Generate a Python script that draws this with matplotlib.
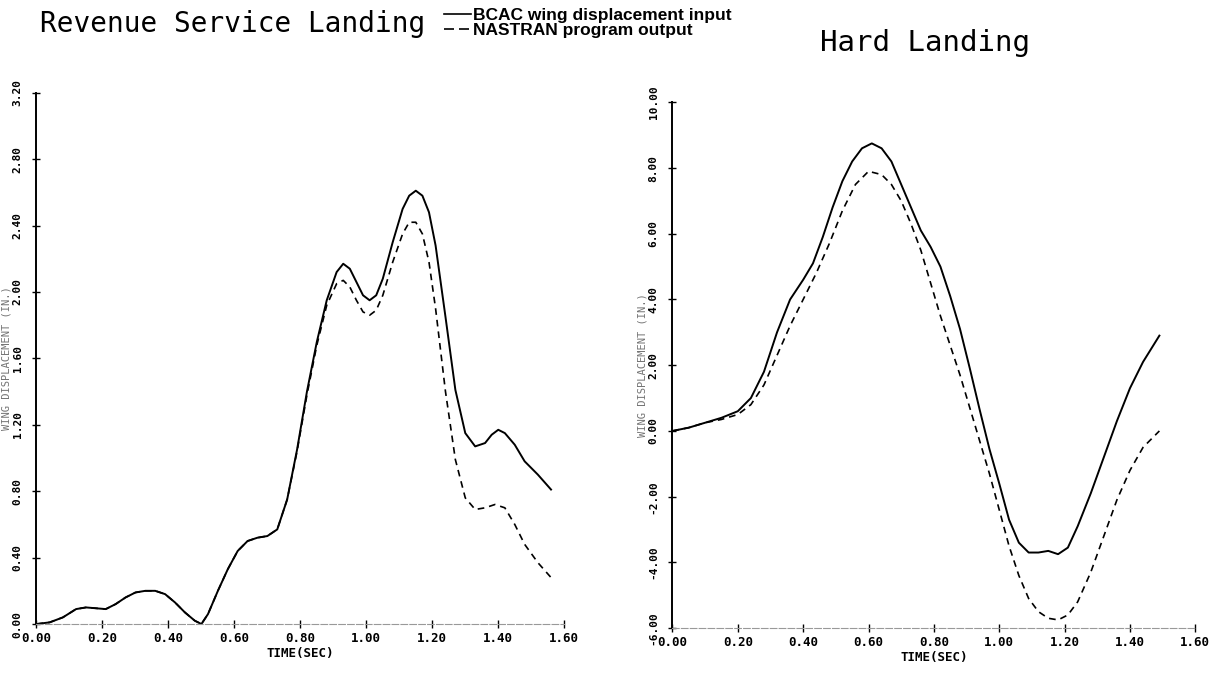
"""
Wing displacement time histories: BCAC input vs NASTRAN output,
revenue service landing and hard landing.
"""
import numpy as np
import matplotlib as mpl
import matplotlib.pyplot as plt
from matplotlib.lines import Line2D

mpl.rcParams.update({
    "font.family": ["DejaVu Sans Mono", "DejaVu Sans"],
    "axes.linewidth": 1.4,
})

# ---- Revenue service landing (left panel) ----
rev_t_in = [0.00, 0.04, 0.08, 0.12, 0.15, 0.18, 0.21, 0.24, 0.27, 0.30,
            0.33, 0.36, 0.39, 0.42, 0.45, 0.48, 0.50, 0.52, 0.55, 0.58,
            0.61, 0.64, 0.67, 0.70, 0.73, 0.76, 0.79, 0.82, 0.85, 0.88,
            0.91, 0.93, 0.95, 0.97, 0.99, 1.01, 1.03, 1.05, 1.08, 1.11,
            1.13, 1.15, 1.17, 1.19, 1.21, 1.24, 1.27, 1.30, 1.33, 1.36,
            1.38, 1.40, 1.42, 1.45, 1.48, 1.52, 1.56]
rev_in = [0.00, 0.01, 0.04, 0.09, 0.10, 0.095, 0.09, 0.12, 0.16, 0.19,
          0.20, 0.20, 0.18, 0.13, 0.07, 0.02, 0.00, 0.06, 0.20, 0.33,
          0.44, 0.50, 0.52, 0.53, 0.57, 0.75, 1.05, 1.40, 1.70, 1.95,
          2.12, 2.17, 2.14, 2.06, 1.98, 1.95, 1.98, 2.08, 2.30, 2.50,
          2.58, 2.61, 2.58, 2.48, 2.28, 1.85, 1.41, 1.15, 1.07, 1.09,
          1.14, 1.17, 1.15, 1.08, 0.98, 0.90, 0.81]

rev_t_out = [0.00, 0.04, 0.08, 0.12, 0.15, 0.18, 0.21, 0.24, 0.27, 0.30,
             0.33, 0.36, 0.39, 0.42, 0.45, 0.48, 0.50, 0.52, 0.55, 0.58,
             0.61, 0.64, 0.67, 0.70, 0.73, 0.76, 0.79, 0.82, 0.85, 0.88,
             0.91, 0.93, 0.95, 0.97, 0.99, 1.01, 1.03, 1.05, 1.08, 1.11,
             1.13, 1.15, 1.17, 1.19, 1.21, 1.24, 1.27, 1.30, 1.33, 1.36,
             1.39, 1.42, 1.45, 1.48, 1.52, 1.56]
rev_out = [0.00, 0.01, 0.04, 0.09, 0.10, 0.095, 0.09, 0.12, 0.16, 0.19,
           0.20, 0.20, 0.18, 0.13, 0.07, 0.02, 0.00, 0.06, 0.20, 0.33,
           0.44, 0.50, 0.52, 0.53, 0.57, 0.75, 1.04, 1.38, 1.68, 1.92,
           2.05, 2.07, 2.03, 1.95, 1.88, 1.86, 1.89, 1.98, 2.18, 2.35,
           2.42, 2.42, 2.35, 2.18, 1.90, 1.40, 0.99, 0.76, 0.69, 0.70,
           0.72, 0.70, 0.60, 0.48, 0.37, 0.28]

# ---- Hard landing (right panel) ----
hard_t_in = [0.00, 0.05, 0.10, 0.15, 0.20, 0.24, 0.28, 0.32, 0.36, 0.40,
             0.43, 0.46, 0.49, 0.52, 0.55, 0.58, 0.61, 0.64, 0.67, 0.70,
             0.73, 0.76, 0.79, 0.82, 0.85, 0.88, 0.91, 0.94, 0.97, 1.00,
             1.03, 1.06, 1.09, 1.12, 1.15, 1.18, 1.21, 1.24, 1.28, 1.32,
             1.36, 1.40, 1.44, 1.49]
hard_in = [0.00, 0.10, 0.25, 0.40, 0.60, 1.00, 1.80, 3.00, 4.00, 4.60,
           5.10, 5.90, 6.80, 7.60, 8.20, 8.60, 8.75, 8.60, 8.20, 7.50,
           6.80, 6.10, 5.60, 5.00, 4.10, 3.10, 1.90, 0.65, -0.55, -1.60,
           -2.70, -3.40, -3.70, -3.70, -3.65, -3.75, -3.55, -2.90, -1.90,
           -0.80, 0.30, 1.30, 2.10, 2.90]

hard_t_out = [0.00, 0.05, 0.10, 0.15, 0.20, 0.24, 0.28, 0.32, 0.36, 0.40,
              0.44, 0.48, 0.52, 0.56, 0.60, 0.64, 0.67, 0.70, 0.73, 0.76,
              0.79, 0.82, 0.85, 0.88, 0.91, 0.94, 0.97, 1.00, 1.03, 1.06,
              1.09, 1.12, 1.15, 1.18, 1.21, 1.24, 1.28, 1.32, 1.36, 1.40,
              1.44, 1.49]
hard_out = [0.00, 0.10, 0.25, 0.35, 0.50, 0.80, 1.40, 2.30, 3.20, 4.00,
            4.80, 5.70, 6.70, 7.50, 7.90, 7.80, 7.50, 7.00, 6.30, 5.50,
            4.50, 3.50, 2.60, 1.70, 0.70, -0.30, -1.30, -2.40, -3.50,
            -4.40, -5.10, -5.50, -5.70, -5.75, -5.60, -5.20, -4.30, -3.20,
            -2.10, -1.20, -0.50, 0.00]

x_ticks = [0.0, 0.2, 0.4, 0.6, 0.8, 1.0, 1.2, 1.4, 1.6]
rev_yticks = [0.0, 0.4, 0.8, 1.2, 1.6, 2.0, 2.4, 2.8, 3.2]
hard_yticks = [-6, -4, -2, 0, 2, 4, 6, 8, 10]


def style_axes(ax, yticks, ylim):
    ax.set_xlim(0, 1.6)
    ax.set_ylim(*ylim)
    ax.set_xticks(x_ticks)
    ax.set_xticklabels([f"{v:.2f}" for v in x_ticks],
                       fontsize=9, fontweight="bold")
    ax.set_yticks(yticks)
    ax.set_yticklabels([f"{v:.2f}" for v in yticks], rotation=90,
                       va="center", fontsize=8, fontweight="bold")
    ax.tick_params(direction="inout", length=6, width=1.0, pad=3)
    ax.tick_params(axis="y", pad=7)
    ax.spines["top"].set_visible(False)
    ax.spines["right"].set_visible(False)
    ax.spines["bottom"].set_color("0.6")
    ax.spines["bottom"].set_linewidth(0.8)
    ax.spines["bottom"].set_linestyle((0, (6, 2)))
    ax.set_xlabel("TIME(SEC)", fontsize=9, fontweight="bold", labelpad=1)
    ax.set_ylabel("WING DISPLACEMENT (IN.)", fontsize=7.5, color="0.45",
                  labelpad=1)
    ax.patch.set_alpha(0)


fig = plt.figure(figsize=(12.16, 6.82), dpi=100)

ax1 = fig.add_axes([0.030, 0.085, 0.434, 0.779])
ax1.plot(rev_t_in, rev_in, color="k", lw=1.4)
ax1.plot(rev_t_out, rev_out, color="k", lw=1.2, ls=(0, (4, 3)))
style_axes(ax1, rev_yticks, (0, 3.2))

ax2 = fig.add_axes([0.553, 0.079, 0.430, 0.771])
ax2.plot(hard_t_in, hard_in, color="k", lw=1.4)
ax2.plot(hard_t_out, hard_out, color="k", lw=1.2, ls=(0, (4, 3)))
style_axes(ax2, hard_yticks, (-6, 10))

fig.text(0.033, 0.965, "Revenue Service Landing", fontsize=20,
         ha="left", va="center")
fig.text(0.674, 0.937, "Hard Landing", fontsize=21,
         ha="left", va="center")

handles = [Line2D([], [], color="k", lw=1.2),
           Line2D([], [], color="k", lw=1.2, ls=(0, (6, 3)))]
fig.legend(handles, ["BCAC wing displacement input",
                     "NASTRAN program output"],
           loc="upper left", bbox_to_anchor=(0.352, 1.012), frameon=False,
           handlelength=1.6, handletextpad=0.1, labelspacing=0.0,
           prop={"family": "Liberation Sans", "weight": "bold", "size": 12.5})

fig.savefig("out.png", dpi=100)
